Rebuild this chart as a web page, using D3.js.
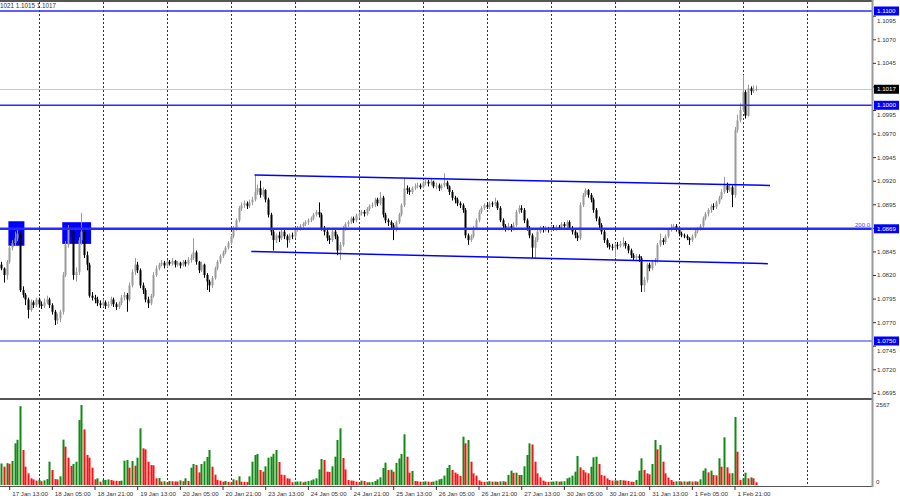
<!DOCTYPE html>
<html>
<head>
<meta charset="utf-8">
<title>EURUSD H1</title>
<script src="https://d3js.org/d3.v7.min.js"></script>
<style>
 body { margin: 0; background: #fff; }
 svg { display: block; }
</style>
</head>
<body>
<script>
// H1 bars, bar 0 = 17 Jan 10:00. Prices are pips above 1.0000 (827 -> 1.0827)
var firstOpen = 831;
var closes = [827,820,834,849,854,859,864,804,799,794,
 783,791,788,794,789,787,791,794,788,781,
 772,774,781,820,852,868,866,820,823,857,
 866,841,831,798,796,794,790,788,791,787,
 789,794,789,786,790,796,799,794,809,823,
 831,825,809,804,794,790,798,820,827,831,
 833,830,834,832,835,831,833,830,834,832,
 836,838,844,834,825,831,820,813,809,817,
 827,834,840,844,849,854,861,870,878,891,
 894,896,893,897,900,908,912,905,910,900,
 884,866,857,862,859,866,861,857,862,861,
 868,870,872,874,876,878,880,884,887,884,
 870,866,859,857,866,861,846,852,870,874,
 876,880,878,883,885,887,885,890,893,894,
 900,896,902,884,878,876,873,868,876,884,
 894,912,910,908,912,914,915,913,918,919,
 917,919,914,915,912,915,918,914,908,902,
 900,896,894,889,862,857,861,870,878,887,
 891,894,892,896,895,897,891,878,872,870,
 872,869,873,887,891,889,878,870,862,849,
 857,866,870,868,870,868,871,869,871,870,
 874,872,876,870,866,862,859,894,905,910,
 905,900,889,880,873,866,857,852,850,849,
 852,851,853,854,851,846,841,838,840,838,
 809,815,831,827,834,836,852,857,855,861,
 868,870,872,868,864,862,861,859,857,861,
 866,869,872,880,885,889,893,892,897,902,
 908,915,910,913,905,974,984,995,1014,989,
 1018,1015,1016,1017];
var highs = [834,828,836,851,857,866,868,866,808,801,
 796,794,793,796,796,792,795,798,796,790,
 783,779,783,823,856,873,872,868,828,860,
 886,868,845,833,802,799,797,793,794,793,
 792,797,796,791,792,799,802,801,812,826,
 838,834,827,812,806,797,800,823,830,833,
 836,835,836,836,838,836,835,834,836,836,
 839,842,859,846,835,834,832,822,815,819,
 829,836,842,846,851,856,863,872,880,893,
 897,899,898,900,903,926,916,920,913,911,
 902,886,868,864,866,868,868,863,864,865,
 870,872,874,876,878,880,882,886,889,897,
 886,872,868,862,868,868,863,855,872,876,
 878,882,882,885,887,889,889,892,895,897,
 902,902,908,904,886,880,878,875,878,886,
 896,923,915,913,914,917,918,917,920,921,
 921,922,920,918,917,917,928,920,915,910,
 904,902,898,896,891,864,863,872,880,889,
 893,896,897,898,898,902,899,893,880,874,
 875,874,876,889,894,894,891,880,872,864,
 860,868,872,872,872,871,873,873,873,873,
 876,876,878,878,872,868,865,897,907,912,
 911,907,902,891,882,875,868,859,854,853,
 854,855,856,860,856,853,848,843,842,842,
 840,818,833,833,836,838,854,864,859,863,
 870,874,874,874,869,866,864,863,860,863,
 868,871,874,882,887,891,895,896,899,904,
 911,924,918,916,915,977,990,1002,1032,1016,
 1022,1020,1021,1021];
var lows = [825,812,815,832,846,851,856,802,796,788,
 774,781,785,786,786,784,785,789,785,778,
 767,768,770,778,818,849,860,815,813,820,
 852,838,825,796,793,790,787,785,786,784,
 785,787,786,783,784,788,793,781,792,807,
 820,822,806,800,791,785,788,796,818,825,
 829,827,828,830,830,828,829,827,829,829,
 830,833,836,831,822,823,817,804,802,806,
 815,825,832,838,842,847,852,859,867,876,
 888,891,890,891,894,898,905,902,903,897,
 881,862,846,854,855,857,858,849,854,858,
 859,866,867,870,872,873,876,878,882,881,
 867,862,856,853,855,858,841,836,850,867,
 871,874,875,876,880,883,882,883,888,891,
 892,893,894,881,875,872,869,857,866,874,
 882,892,906,905,906,910,912,911,912,915,
 914,915,912,911,909,910,913,911,905,899,
 896,893,891,886,859,852,855,859,868,876,
 885,889,890,890,892,893,889,876,869,866,
 867,866,867,871,885,886,875,867,859,838,
 838,855,864,865,866,865,866,867,867,868,
 868,870,870,868,863,859,856,857,892,903,
 902,897,886,877,870,863,854,849,847,846,
 839,847,849,850,848,843,838,835,835,834,
 802,802,812,824,825,830,833,850,852,853,
 859,866,868,866,861,860,859,857,852,855,
 859,864,867,870,878,882,886,889,890,895,
 900,906,907,908,892,902,971,982,993,986,
 988,1011,1013,1015];
var volumes = [690,590,700,680,770,1337,1450,2530,1123,588,374,214,180,140,
 160,120,150,190,749,481,190,180,278,1455,1230,877,610,674,749,2086,2567,1786,963,877,556,182,214,107,
 160,165,180,160,140,135,130,140,781,802,556,770,620,877,1819,1177,1144,749,642,630,214,225,110,120,
 86,128,120,115,110,150,120,214,130,556,674,642,406,674,760,899,1123,588,331,160,140,107,128,100,
 90,180,150,278,107,100,95,278,749,963,995,481,428,599,877,909,1000,1123,738,331,320,214,200,86,
 107,110,115,86,107,128,150,180,214,500,835,802,428,420,600,909,1444,1819,867,500,160,140,135,107,
 86,140,130,86,90,95,130,180,246,545,716,481,490,428,706,850,995,1626,909,396,450,128,120,107,
 107,115,107,100,110,140,180,200,300,545,642,481,400,350,290,1552,1337,1444,749,374,300,150,107,100,
 107,120,107,110,100,115,120,107,321,460,390,396,321,321,600,963,1337,1300,749,374,246,140,107,100,
 107,110,120,107,115,120,214,240,300,428,931,567,481,406,374,588,888,909,674,321,300,214,160,140,
 150,140,160,150,140,130,107,100,160,460,856,481,374,342,674,1444,1144,1284,749,374,236,160,107,118,
 120,110,115,107,120,110,118,107,182,460,535,406,460,321,310,856,588,1530,567,374,380,2183,1069,160,
 214,396,214,246,214,86];

var timeLabels = ["17 Jan 13:00","18 Jan 05:00","18 Jan 21:00","19 Jan 13:00","20 Jan 05:00",
 "20 Jan 21:00","23 Jan 13:00","24 Jan 05:00","24 Jan 21:00","25 Jan 13:00","26 Jan 05:00",
 "26 Jan 21:00","27 Jan 13:00","30 Jan 05:00","30 Jan 21:00","31 Jan 13:00","1 Feb 05:00","1 Feb 21:00"];
var timeLabelBars = [3,19,35,51,67,83,99,115,131,147,163,179,195,211,227,243,259,275];
var dayBars = [14,38,62,86,110,134,158,182,206,230,254,278,302];
var priceTicks = [1.0695,1.0720,1.0745,1.0770,1.0795,1.0820,1.0845,1.0870,1.0895,1.0920,
 1.0945,1.0970,1.0995,1.1020,1.1045,1.1070,1.1095];
var levels = [1.1100, 1.1000, 1.0869, 1.0750];
var fiboLabel = "200.0";
var channelTop = [[95, 1.0926], [288.3, 1.0915]];
var channelBottom = [[93.8, 1.0845], [287.5, 1.0832]];
var boxes = [[2.7, 8.7, 1.0877, 1.0851], [22.9, 33.7, 1.0876, 1.0853]];
var lastPrice = 1.1017;
var volumeMax = 2567;
var header = "1021 1.1015 1.1017";

var w = 900, h = 500, right = 872;
var font = "Liberation Sans, Arial, sans-serif";

var svg = d3.select("body").append("svg")
  .attr("width", w)
  .attr("height", h)
  .attr("font-family", font);

var x = d3.scaleLinear().domain([0, 300]).range([1.2, 801.2]);
var y = d3.scaleLinear().domain([1.0750, 1.1100]).range([341, 11]);
var yv = d3.scaleLinear().domain([0, volumeMax]).range([485, 405]);
var fmt = d3.format(".4f");

function price(p) { return 1 + p / 10000; }
function col(i) { return Math.round(x(i)); }

var bars = closes.map(function(c, i) {
  return {
    i: i,
    o: price(i ? closes[i - 1] : firstOpen),
    c: price(c),
    hi: price(highs[i]),
    lo: price(lows[i]),
    v: volumes[i],
    up: i ? volumes[i] >= volumes[i - 1] : true
  };
});

svg.append("clipPath").attr("id", "mainClip")
  .append("rect").attr("x", 0).attr("y", 2).attr("width", right).attr("height", 396);

// day separators
svg.selectAll(".day")
  .data(dayBars)
  .enter().append("line")
  .attr("class", "day")
  .attr("x1", function(d) { return col(d) + 0.5; })
  .attr("x2", function(d) { return col(d) + 0.5; })
  .attr("y1", 2).attr("y2", 486)
  .attr("stroke", "#333")
  .attr("stroke-dasharray", "2,2");

var main = svg.append("g").attr("clip-path", "url(#mainClip)");

// highlighted zones (behind candles)
main.selectAll(".zone")
  .data(boxes)
  .enter().append("rect")
  .attr("x", function(d) { return x(d[0]); })
  .attr("width", function(d) { return x(d[1]) - x(d[0]); })
  .attr("y", function(d) { return y(d[2]); })
  .attr("height", function(d) { return y(d[3]) - y(d[2]); })
  .attr("fill", "#0000ff");

// current price line
main.append("line")
  .attr("x1", 0).attr("x2", right)
  .attr("y1", Math.round(y(lastPrice)) + 0.5).attr("y2", Math.round(y(lastPrice)) + 0.5)
  .attr("stroke", "#c8c8c8");

// candles
main.selectAll(".wick")
  .data(bars)
  .enter().append("line")
  .attr("x1", function(d) { return col(d.i) + 0.5; })
  .attr("x2", function(d) { return col(d.i) + 0.5; })
  .attr("y1", function(d) { return y(d.hi); })
  .attr("y2", function(d) { return y(d.lo); })
  .attr("stroke", function(d) { return d.c >= d.o ? "#9a9a9a" : "#000"; });

main.selectAll(".body")
  .data(bars)
  .enter().append("rect")
  .attr("x", function(d) { return col(d.i) - 0.5; })
  .attr("width", 2)
  .attr("y", function(d) { return y(Math.max(d.o, d.c)); })
  .attr("height", function(d) { return Math.max(1, Math.abs(y(d.o) - y(d.c))); })
  .attr("fill", function(d) { return d.c >= d.o ? "#9a9a9a" : "#000"; });

// horizontal levels
main.selectAll(".level")
  .data(levels)
  .enter().append("line")
  .attr("x1", 0).attr("x2", right)
  .attr("y1", function(d) { return y(d); })
  .attr("y2", function(d) { return y(d); })
  .attr("stroke", "#2a2aff")
  .attr("stroke-width", function(d) { return d === 1.0869 ? 2.5 : (d === 1.0750 ? 1 : 1.5); });

// channel
[channelTop, channelBottom].forEach(function(c) {
  main.append("line")
    .attr("x1", x(c[0][0])).attr("y1", y(c[0][1]))
    .attr("x2", x(c[1][0])).attr("y2", y(c[1][1]))
    .attr("stroke", "#0000ff")
    .attr("stroke-width", 1.5);
});

svg.append("text")
  .attr("x", right - 2).attr("y", y(1.0869) - 2)
  .attr("text-anchor", "end")
  .attr("font-size", 6)
  .attr("fill", "#4040ff")
  .text(fiboLabel);

// volumes
svg.selectAll(".vol")
  .data(bars)
  .enter().append("rect")
  .attr("x", function(d) { return col(d.i) - 0.5; })
  .attr("width", 2)
  .attr("y", function(d) { return yv(d.v); })
  .attr("height", function(d) { return yv(0) - yv(d.v); })
  .attr("fill", function(d) { return d.up ? "#108a10" : "#ff1010"; });

// frame
svg.append("line").attr("x1", 0).attr("x2", right).attr("y1", 1).attr("y2", 1)
  .attr("stroke", "#555").attr("stroke-width", 2);
svg.append("line").attr("x1", 0).attr("x2", right).attr("y1", 399).attr("y2", 399)
  .attr("stroke", "#555").attr("stroke-width", 2);
svg.append("line").attr("x1", 0).attr("x2", right).attr("y1", 486.5).attr("y2", 486.5)
  .attr("stroke", "#555");
svg.append("line").attr("x1", right + 0.5).attr("x2", right + 0.5).attr("y1", 0).attr("y2", 487)
  .attr("stroke", "#999").attr("stroke-width", 2);

// price axis; labels under a level box are pushed just below it or hidden
var boxed = levels.concat([lastPrice]);
var pax = svg.append("g")
  .attr("transform", "translate(" + (right + 1) + ",0)")
  .call(d3.axisRight(y).tickValues(priceTicks).tickSize(3).tickPadding(1).tickFormat(fmt));
pax.attr("font-family", font).attr("font-size", 6.2).attr("color", "#333");
pax.select(".domain").remove();
pax.selectAll(".tick text").each(function(d) {
  var near = boxed.filter(function(b) { return Math.abs(y(b) - y(d)) < 9; });
  if (!near.length) return;
  var gap = y(d) - y(near[0]);
  if (Math.abs(gap) < 4) d3.select(this).remove();
  else d3.select(this).attr("y", 9 - gap + 0.5);
});

// level labels
var lab = svg.selectAll(".lvl")
  .data(levels.map(function(d) { return {p: d, bg: "#0000ff"}; })
    .concat([{p: lastPrice, bg: "#000"}]))
  .enter().append("g")
  .attr("transform", function(d) { return "translate(" + (right + 2) + "," + y(d.p) + ")"; });
lab.append("rect")
  .attr("x", 0).attr("y", -4.5).attr("width", 25).attr("height", 9)
  .attr("fill", function(d) { return d.bg; });
lab.append("text")
  .attr("x", 3).attr("y", 2.2)
  .attr("font-size", 6.2)
  .attr("fill", "#fff")
  .text(function(d) { return fmt(d.p); });

// volume scale labels
svg.selectAll(".vlab")
  .data([volumeMax, 0])
  .enter().append("text")
  .attr("x", right + 4)
  .attr("y", function(d) { return d ? yv(d) + 2 : yv(d) - 1.5; })
  .attr("font-size", 6.2)
  .attr("fill", "#333")
  .text(function(d) { return d; });

// time axis
var tax = svg.append("g")
  .attr("transform", "translate(0,486)")
  .call(d3.axisBottom(x).tickValues(timeLabelBars).tickSize(4).tickPadding(2)
    .tickFormat(function(d, i) { return timeLabels[i]; }));
tax.attr("font-family", font).attr("font-size", 6.2).attr("color", "#333");
tax.select(".domain").remove();
tax.selectAll("text").attr("text-anchor", "start").attr("x", 2.5);

// header
svg.append("text")
  .attr("x", 0).attr("y", 8)
  .attr("font-size", 6.3)
  .attr("fill", "#333")
  .text(header);
</script>
</body>
</html>
